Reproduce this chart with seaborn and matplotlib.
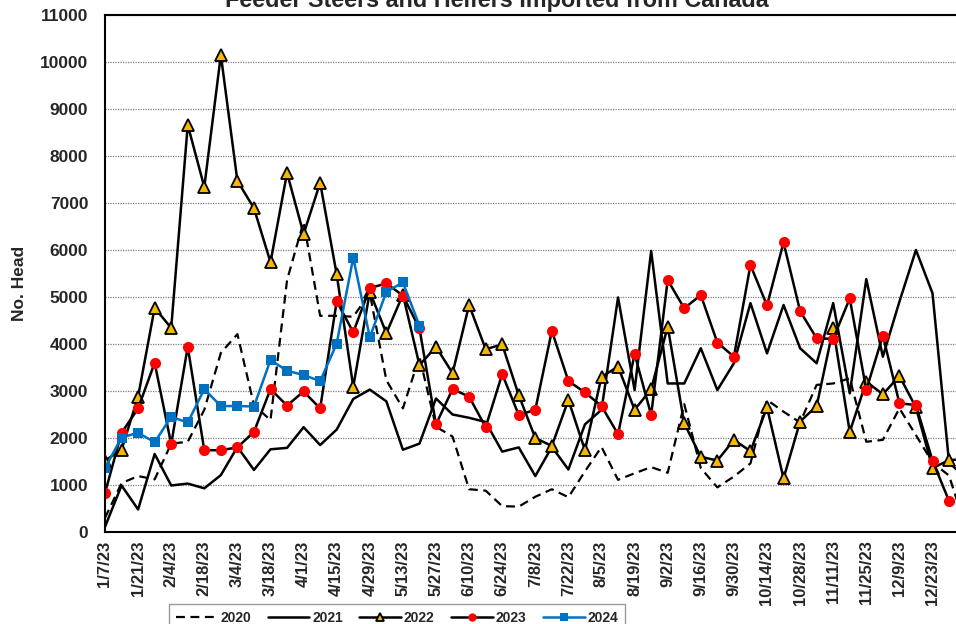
import seaborn as sns
import matplotlib.pyplot as plt
import pandas as pd

# week index 0 = 1/7/23, weekly
tick_labels = ["1/7/23", "1/21/23", "2/4/23", "2/18/23", "3/4/23", "3/18/23",
               "4/1/23", "4/15/23", "4/29/23", "5/13/23", "5/27/23", "6/10/23",
               "6/24/23", "7/8/23", "7/22/23", "8/5/23", "8/19/23", "9/2/23",
               "9/16/23", "9/30/23", "10/14/23", "10/28/23", "11/11/23",
               "11/25/23", "12/9/23", "12/23/23"]

head_2020 = [300, 1040, 1190, 1120, 1880, 1920, 2600, 3810, 4210, 2700,
             2380, 5360, 6600, 4600, 4600, 4580, 5080, 3230, 2630, 3730,
             2240, 2030, 910, 880, 550, 540, 750, 910, 740, 1290,
             1810, 1110, 1250, 1380, 1260, 2720, 1360, 950, 1180, 1460,
             2810, 2560, 2330, 3130, 3160, 3270, 1920, 1960, 2630, 2060,
             1480, 1200, 100]
head_2021 = [110, 990, 480, 1660, 990, 1030, 930, 1210, 1810, 1320,
             1760, 1790, 2230, 1850, 2180, 2830, 3030, 2780, 1750, 1880,
             2840, 2500, 2430, 2340, 1710, 1800, 1190, 1810, 1330, 2290,
             2600, 4990, 3020, 5980, 3160, 3160, 3910, 3020, 3590, 4870,
             3800, 4830, 3910, 3590, 4870, 2950, 5380, 3730, 4900, 6000,
             5080, 1480, 1150]
head_2022 = [1520, 1750, 2880, 4770, 4340, 8660, 7340, 10150, 7470, 6890,
             5740, 7640, 6340, 7430, 5480, 3090, 5110, 4230, 5050, 3550,
             3940, 3380, 4830, 3890, 3990, 2910, 2000, 1830, 2810, 1740,
             3300, 3520, 2600, 3040, 4370, 2310, 1600, 1520, 1960, 1720,
             2650, 1140, 2350, 2680, 4330, 2130, 3200, 2930, 3320, 2650,
             1360, 1530, 1550]
head_2023 = [830, 2110, 2630, 3600, 1870, 3940, 1740, 1740, 1800, 2130,
             3040, 2690, 2990, 2630, 4910, 4250, 5190, 5290, 5030, 4330,
             2290, 3040, 2880, 2230, 3360, 2490, 2600, 4280, 3210, 2970,
             2680, 2080, 3790, 2490, 5360, 4760, 5040, 4030, 3730, 5680,
             4820, 6160, 4700, 4120, 4110, 4970, 3020, 4180, 2740, 2700,
             1520, 660]
head_2024 = [1360, 2010, 2110, 1910, 2450, 2330, 3040, 2680, 2680, 2670,
             3660, 3430, 3340, 3210, 4010, 5840, 4140, 5110, 5310, 4390]

sns.set_style("white")
plt.rcParams["font.family"] = ["Liberation Sans", "DejaVu Sans"]
plt.rcParams["font.weight"] = "bold"

fig = plt.figure(figsize=(9.56, 6.24), dpi=100)
ax = fig.add_axes([105 / 956, 1 - 532 / 624, 1 - 105 / 956, (532 - 15) / 624])


def frame(vals):
    return pd.DataFrame({"week": range(len(vals)), "head": vals})


sns.lineplot(data=frame(head_2020), x="week", y="head", ax=ax, color="black",
             lw=1.6, linestyle=(0, (4, 2.5)), label="2020")
sns.lineplot(data=frame(head_2021), x="week", y="head", ax=ax, color="black",
             lw=1.8, label="2021")
sns.lineplot(data=frame(head_2022), x="week", y="head", ax=ax, color="black",
             lw=1.8, marker="^", markersize=8, markerfacecolor="#F5B800",
             markeredgecolor="black", markeredgewidth=1.3, label="2022")
sns.lineplot(data=frame(head_2023), x="week", y="head", ax=ax, color="black",
             lw=1.8, marker="o", markersize=8, markerfacecolor="#FF0000",
             markeredgecolor="#FF0000", markeredgewidth=0, label="2023")
sns.lineplot(data=frame(head_2024), x="week", y="head", ax=ax, color="#0070C0",
             lw=1.8, marker="s", markersize=7, markerfacecolor="#0070C0",
             markeredgecolor="#0070C0", markeredgewidth=0, label="2024")

ax.set_xlim(0, (956 - 105) / 16.55)
ax.set_ylim(0, 11000)
ax.set_yticks(range(0, 11001, 1000))
ax.set_yticklabels([str(v) for v in range(0, 11001, 1000)], fontsize=12.5, fontweight="bold")
ax.tick_params(axis="y", direction="out", length=4, width=0.8, color="#555555", pad=8)

ax.set_xticks(range(52))
xlabels = []
for i in range(52):
    xlabels.append(tick_labels[i // 2] if i % 2 == 0 else "")
ax.set_xticklabels(xlabels, rotation=90, fontsize=12, fontweight="bold")
ax.tick_params(axis="x", direction="inout", length=8, width=1, color="black", pad=2)

ax.grid(axis="y", color="#7f7f7f", linestyle=(0, (1, 1)), lw=0.9)
ax.grid(axis="x", visible=False)
for s in ["left", "bottom", "top"]:
    ax.spines[s].set_color("black")
    ax.spines[s].set_linewidth(1.5)
ax.spines["right"].set_visible(False)

ax.set_xlabel("")
ax.set_ylabel("No. Head", fontsize=12.5, fontweight="bold")
ax.yaxis.set_label_coords(-78 / 851, 0.48)

fig.text(0.52, 1 - 7 / 624, "Feeder Steers and Heifers Imported from Canada",
         ha="center", va="baseline", fontsize=16.8, fontweight="bold")

handles, labels = ax.get_legend_handles_labels()
ax.get_legend().remove()
leg = fig.legend(handles, labels, loc="upper center", ncol=5,
                 bbox_to_anchor=(397 / 956, 1 - 604 / 624), borderaxespad=0,
                 frameon=True, fancybox=False, edgecolor="#808080",
                 handlelength=3, columnspacing=1.2, handletextpad=0.2,
                 borderpad=0.5, markerscale=0.75,
                 prop={"weight": "bold", "size": 10})
leg.get_frame().set_linewidth(1.0)

fig.savefig("out.png", dpi=100)
